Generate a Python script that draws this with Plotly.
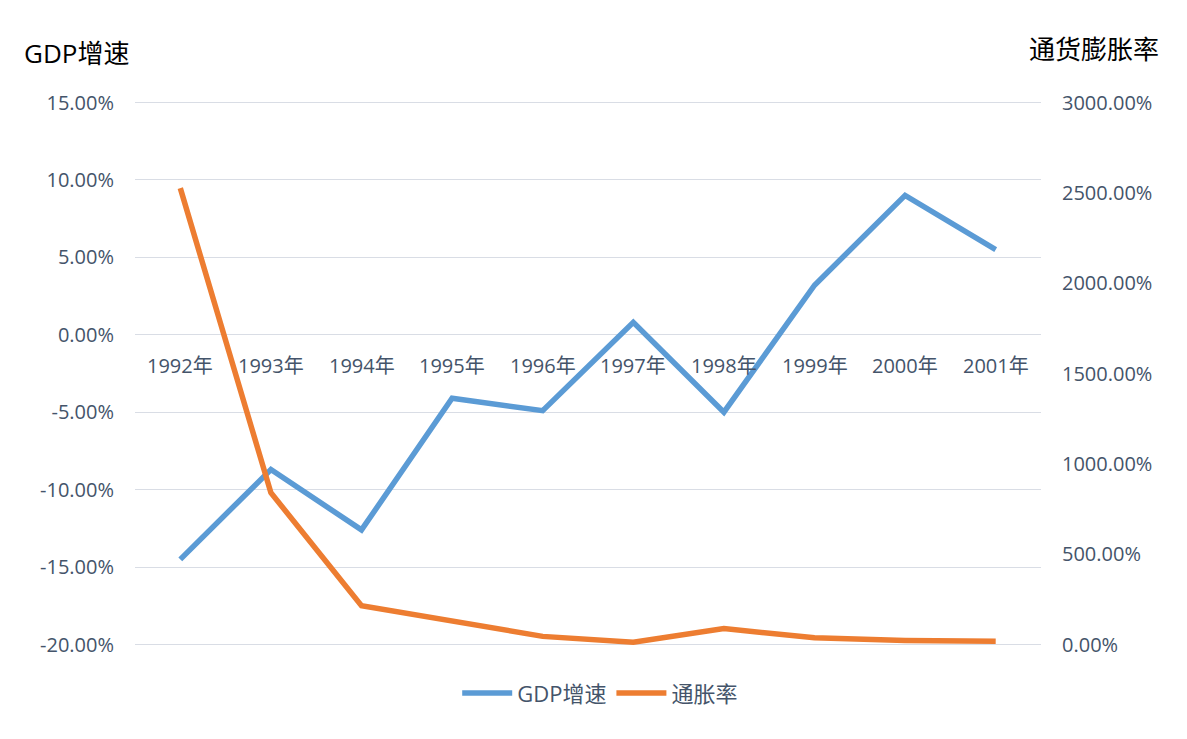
import plotly.graph_objects as go

categories = ["1992年", "1993年", "1994年", "1995年", "1996年", "1997年", "1998年", "1999年", "2000年", "2001年"]
gdp_growth = [-14.5, -8.7, -12.6, -4.1, -4.9, 0.8, -5.0, 3.2, 9.0, 5.5]
inflation = [2526, 840, 215, 131, 45, 13, 88, 37, 22, 18]

left_ticks = [15, 10, 5, 0, -5, -10, -15, -20]
left_labels = ["15.00%", "10.00%", "5.00%", "0.00%", "-5.00%", "-10.00%", "-15.00%", "-20.00%"]
right_ticks = [0, 500, 1000, 1500, 2000, 2500, 3000]
right_labels = ["0.00%", "500.00%", "1000.00%", "1500.00%", "2000.00%", "2500.00%", "3000.00%"]

FONT = "Open Sans, Noto Sans CJK SC, sans-serif"
TXT = "#44546A"

# page body adds an 8px offset; work in figure pixels
OFF = 8
W, H = 1187, 739
PAD = 2.5  # extra px above/below so edge gridlines are drawn
pl, pt = 135 - OFF, 102 - OFF - PAD
pr = W - (1040.6 - OFF)
pb = H - (644.3 - OFF) - PAD
pw, ph = W - pl - pr, H - pt - pb
ext_l = 35 * PAD / (ph - 2 * PAD)
ext_r = 3000 * PAD / (ph - 2 * PAD)


def px(x):
    return (x - OFF - pl) / pw


def py(y):
    return (H - (y - OFF) - pb) / ph


fig = go.Figure()
fig.add_trace(go.Scatter(x=categories, y=gdp_growth, name="GDP增速", mode="lines",
                         line=dict(color="#5B9BD5", width=5.5), yaxis="y"))
fig.add_trace(go.Scatter(x=categories, y=inflation, name="通胀率", mode="lines",
                         line=dict(color="#ED7D31", width=5.5), yaxis="y2"))

annotations = []
for c in categories:
    annotations.append(dict(x=c, y=0, xref="x", yref="y", text=c, showarrow=False,
                            yshift=-31, font=dict(family=FONT, size=20, color=TXT)))
annotations.append(dict(x=px(22), y=py(52), xref="paper", yref="paper", text="GDP增速", showarrow=False,
                        xanchor="left", yanchor="middle", font=dict(family=FONT, size=26, color="#000000")))
annotations.append(dict(x=px(1027), y=py(48), xref="paper", yref="paper", text="通货膨胀率", showarrow=False,
                        xanchor="left", yanchor="middle", font=dict(family=FONT, size=26, color="#000000")))

fig.update_layout(
    width=W, height=H,
    margin=dict(l=pl, r=pr, t=pt, b=pb, autoexpand=False),
    paper_bgcolor="white", plot_bgcolor="white",
    font=dict(family=FONT, size=20, color=TXT),
    xaxis=dict(type="category", range=[-0.5, 9.5], showticklabels=False, showgrid=False,
               zeroline=False, showline=False, ticks=""),
    yaxis=dict(range=[-20 - ext_l, 15 + ext_l], tickvals=left_ticks, ticktext=left_labels, showgrid=True,
               gridcolor="#D9DDE5", gridwidth=1, zeroline=False, showline=False,
               ticklabelstandoff=20, tickfont=dict(family=FONT, size=20, color=TXT)),
    yaxis2=dict(range=[-ext_r, 3000 + ext_r], tickvals=right_ticks, ticktext=right_labels, overlaying="y",
                side="right", showgrid=False, zeroline=False, showline=False,
                ticklabelstandoff=20, tickfont=dict(family=FONT, size=20, color=TXT)),
    legend=dict(orientation="h", x=px(600), xanchor="center", y=py(693), yanchor="middle",
                font=dict(family=FONT, size=22, color=TXT), bgcolor="rgba(0,0,0,0)",
                itemwidth=50),
    annotations=annotations,
    showlegend=True,
)

fig.write_html("out.html")
